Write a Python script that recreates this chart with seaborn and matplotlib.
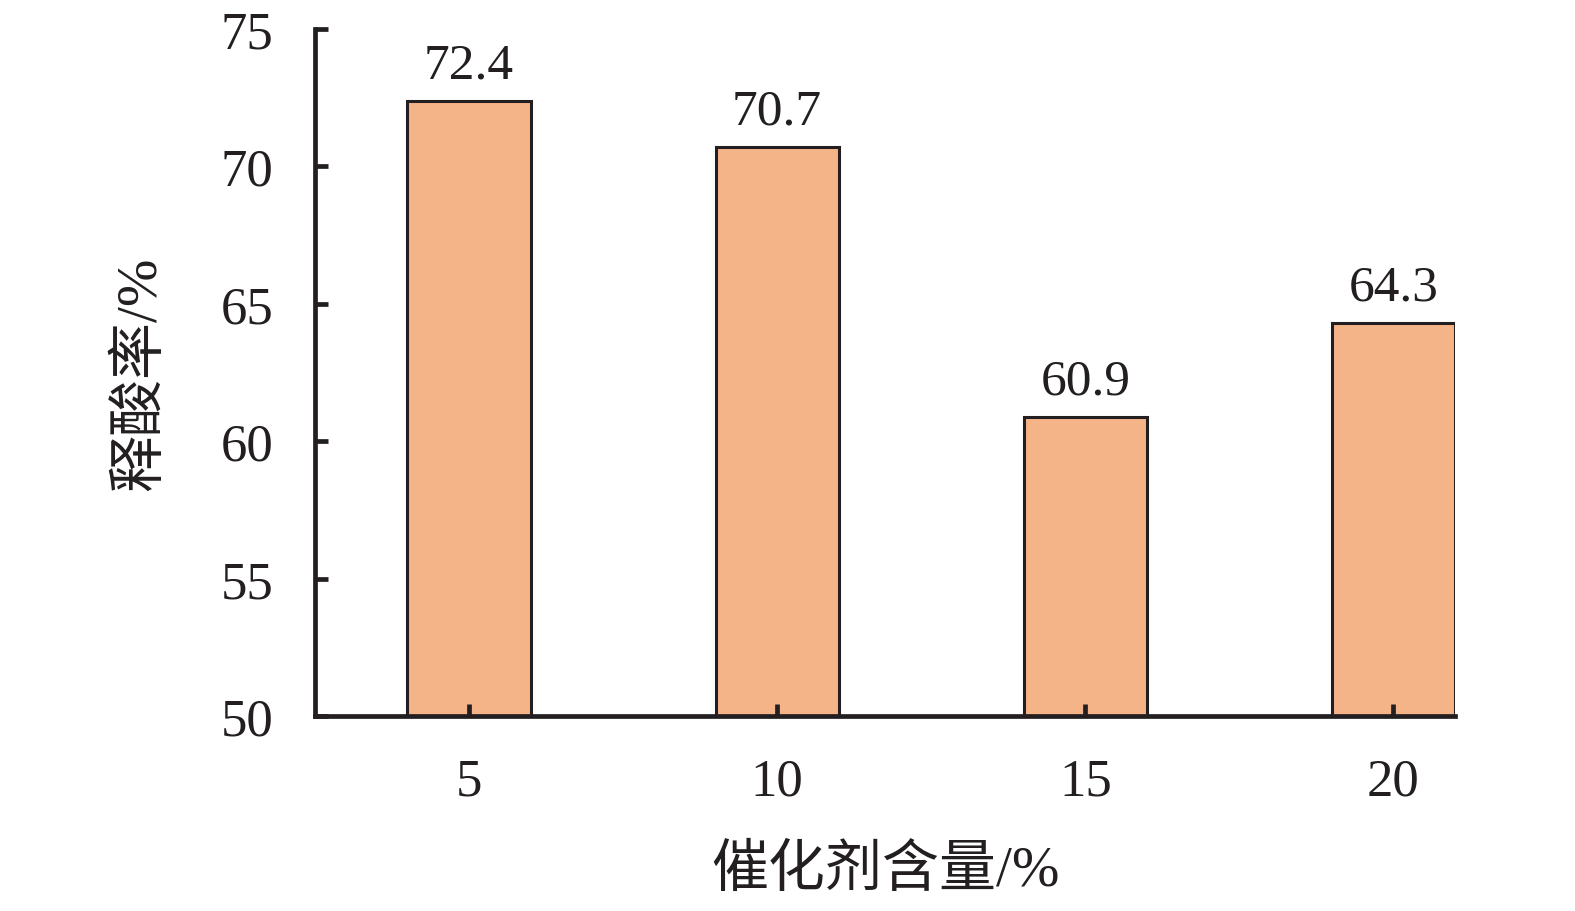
import pandas as pd
import seaborn as sns
import matplotlib.pyplot as plt

# 数据
catalyst = ['5', '10', '15', '20']
release_rate = [72.4, 70.7, 60.9, 64.3]
y_ticks = [50, 55, 60, 65, 70, 75]

df = pd.DataFrame({'catalyst': catalyst, 'rate': release_rate})

sns.set_theme(style='ticks')
plt.rcParams['font.family'] = ['Liberation Serif', 'Noto Sans CJK SC']
plt.rcParams['axes.unicode_minus'] = False

ink = '#231F20'
fig = plt.figure(figsize=(15.75, 9.12), dpi=100)
ax = fig.add_axes([0.2, 0.2138, 0.7238, 0.7532])

sns.barplot(data=df, x='catalyst', y='rate', color='#F5B388', saturation=1,
            width=0.4, edgecolor=ink, linewidth=2.2, ax=ax)

ax.set_ylim(50, 75)
ax.set_xlim(-0.5, 3.2)
ax.set_yticks(y_ticks)
ax.set_axisbelow(False)  # 刻度画在柱子上面

# 柱顶数值
ax.bar_label(ax.containers[0], labels=[f'{v:.1f}' for v in release_rate],
             padding=9, fontsize=37, color=ink)

for side in ['top', 'right']:
    ax.spines[side].set_visible(False)
for side in ['left', 'bottom']:
    ax.spines[side].set_linewidth(3.4)
    ax.spines[side].set_color(ink)

ax.tick_params(axis='both', direction='in', width=3.4, color=ink,
               labelsize=38, labelcolor=ink)
ax.tick_params(axis='y', length=9, pad=30)
ax.tick_params(axis='x', length=9, pad=30)

ax.set_xlabel('催化剂含量/%', fontsize=41, color=ink)
ax.set_ylabel('释酸率/%', fontsize=41, color=ink)
ax.xaxis.set_label_coords(0.5, -0.225)
ax.xaxis.label.set_va('center')
ax.yaxis.set_label_coords(-0.153, 0.5)
ax.yaxis.label.set_va('center')

fig.savefig('out.png', dpi=100, facecolor='white')
